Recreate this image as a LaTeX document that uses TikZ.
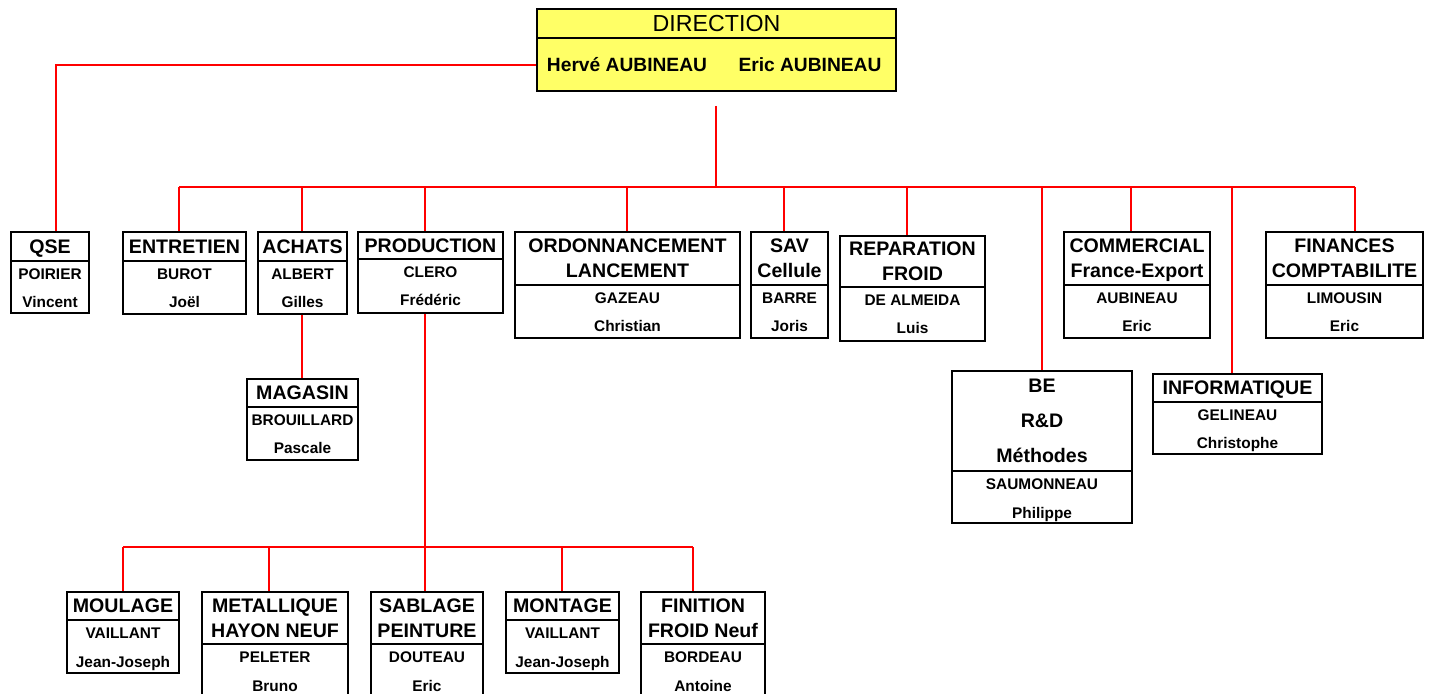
\documentclass[tikz,border=0pt]{standalone}
\usepackage{fontspec}
\setmainfont{Liberation Sans}
\usetikzlibrary{fit}

\definecolor{dirfill}{HTML}{FFFF66}

\begin{document}
\begin{tikzpicture}[x=0.5pt,y=-0.5pt,
    link/.style={red,line width=0.75pt},
    box/.style={draw=black,line width=0.9pt,fill=white,inner sep=0pt},
    head/.style={font=\fontsize{9.8}{12.5}\selectfont\bfseries,align=center,text depth=0pt,inner sep=0pt},
    who/.style={font=\fontsize{7.7}{9}\selectfont\bfseries,inner sep=0pt,anchor=base}]

    \useasboundingbox (0,0) rectangle (1434,694);
    \clip (0,0) rectangle (1434,694);

    % Direction box on top
    \node[box,fill=dirfill,line width=1pt,fit={(537,9) (896,91)}] (direction) {};
    \draw[line width=1pt] (537,38) -- (896,38);
    \node[inner sep=0pt,font=\fontsize{11.6}{13}\selectfont,text depth=0pt] (dirtitle) at (716.5,23.5) {DIRECTION};
    \node[who,font=\fontsize{9.6}{11}\selectfont\bfseries] (herve) at (627,72) {Hervé AUBINEAU};
    \node[who,font=\fontsize{9.6}{11}\selectfont\bfseries] (eric) at (810,72) {Eric AUBINEAU};

    % Service boxes: name/left/top/right/bottom/divider/service/surname/first name
    \foreach \n/\xa/\ya/\xb/\yb/\yd/\head/\sur/\first in {
    qse/11/232/89/313/261/QSE/POIRIER/Vincent,
    ent/123/232/246/314/261/ENTRETIEN/BUROT/Joël,
    ach/258/232/347/314/261/ACHATS/ALBERT/Gilles,
    prod/358/232/503/313/259/PRODUCTION/CLERO/Frédéric,
    mag/247/379/358/460/407/MAGASIN/BROUILLARD/Pascale,
    ordo/515/232/740/338/285/{ORDONNANCEMENT\\LANCEMENT}/GAZEAU/Christian,
    sav/751/232/828/338/285/{SAV\\Cellule}/BARRE/Joris,
    rep/840/236/985/341/287/{REPARATION\\FROID}/DE ALMEIDA/Luis,
    com/1064/232/1210/338/285/{COMMERCIAL\\France-Export}/AUBINEAU/Eric,
    fin/1266/232/1423/338/285/{FINANCES\\COMPTABILITE}/LIMOUSIN/Eric,
    be/952/371/1132/523/471/{BE\\[5pt]R\&D\\[5pt]Méthodes}/SAUMONNEAU/Philippe,
    info/1153/374/1322/454/402/INFORMATIQUE/GELINEAU/Christophe,
    moul/67/592/179/673/620/MOULAGE/VAILLANT/Jean-Joseph,
    met/202/592/348/697/644/{METALLIQUE\\HAYON NEUF}/PELETER/Bruno,
    sab/371/592/483/697/644/{SABLAGE\\PEINTURE}/DOUTEAU/Eric,
    mont/506/592/619/673/620/MONTAGE/VAILLANT/Jean-Joseph,
    finit/641/592/765/697/644/{FINITION\\FROID Neuf}/BORDEAU/Antoine} {
    \node[box,fit={(\xa,\ya) (\xb,\yb)}] (\n) {};
    \draw[line width=0.9pt] (\xa,\yd) -- (\xb,\yd);
    \node[head] (\n t) at ({(\xa+\xb)/2},{(\ya+\yd)/2}) {\head};
    \node[who] (\n s) at ({(\xa+\xb)/2},{\yd+18.5}) {\sur};
    \node[who] (\n f) at ({(\xa+\xb)/2},{\yd+47}) {\first};
    }

    % QSE hangs off the side of the direction
    \coordinate (qsejoint) at (56,65);
    \draw[link] (direction.west |- qsejoint) -- (qsejoint) -- (qse.north -| qsejoint);

    % Main bus under the direction
    \coordinate (trunk) at (716,106);
    \coordinate (bus) at (716,187);
    \draw[link] (trunk) -- (bus);
    \draw[link] (bus -| 179,0) -- (bus -| 1355,0);
    \foreach \n/\x in {ent/179,ach/302,prod/425,ordo/627,sav/784,rep/907,be/1042,com/1131,info/1232,fin/1355} {
    \draw[link] (bus -| \x,0) -- (\n.north -| \x,0);
    }

    % Magasin under achats
    \draw[link] (ach.south -| 302,0) -- (mag.north -| 302,0);

    % Workshops under production
    \coordinate (lowbus) at (425,547);
    \draw[link] (prod.south -| 425,0) -- (sab.north -| 425,0);
    \draw[link] (lowbus -| 123,0) -- (lowbus -| 693,0);
    \foreach \n/\x in {moul/123,met/269,mont/562,finit/693} {
    \draw[link] (lowbus -| \x,0) -- (\n.north -| \x,0);
    }

\end{tikzpicture}
\end{document}
